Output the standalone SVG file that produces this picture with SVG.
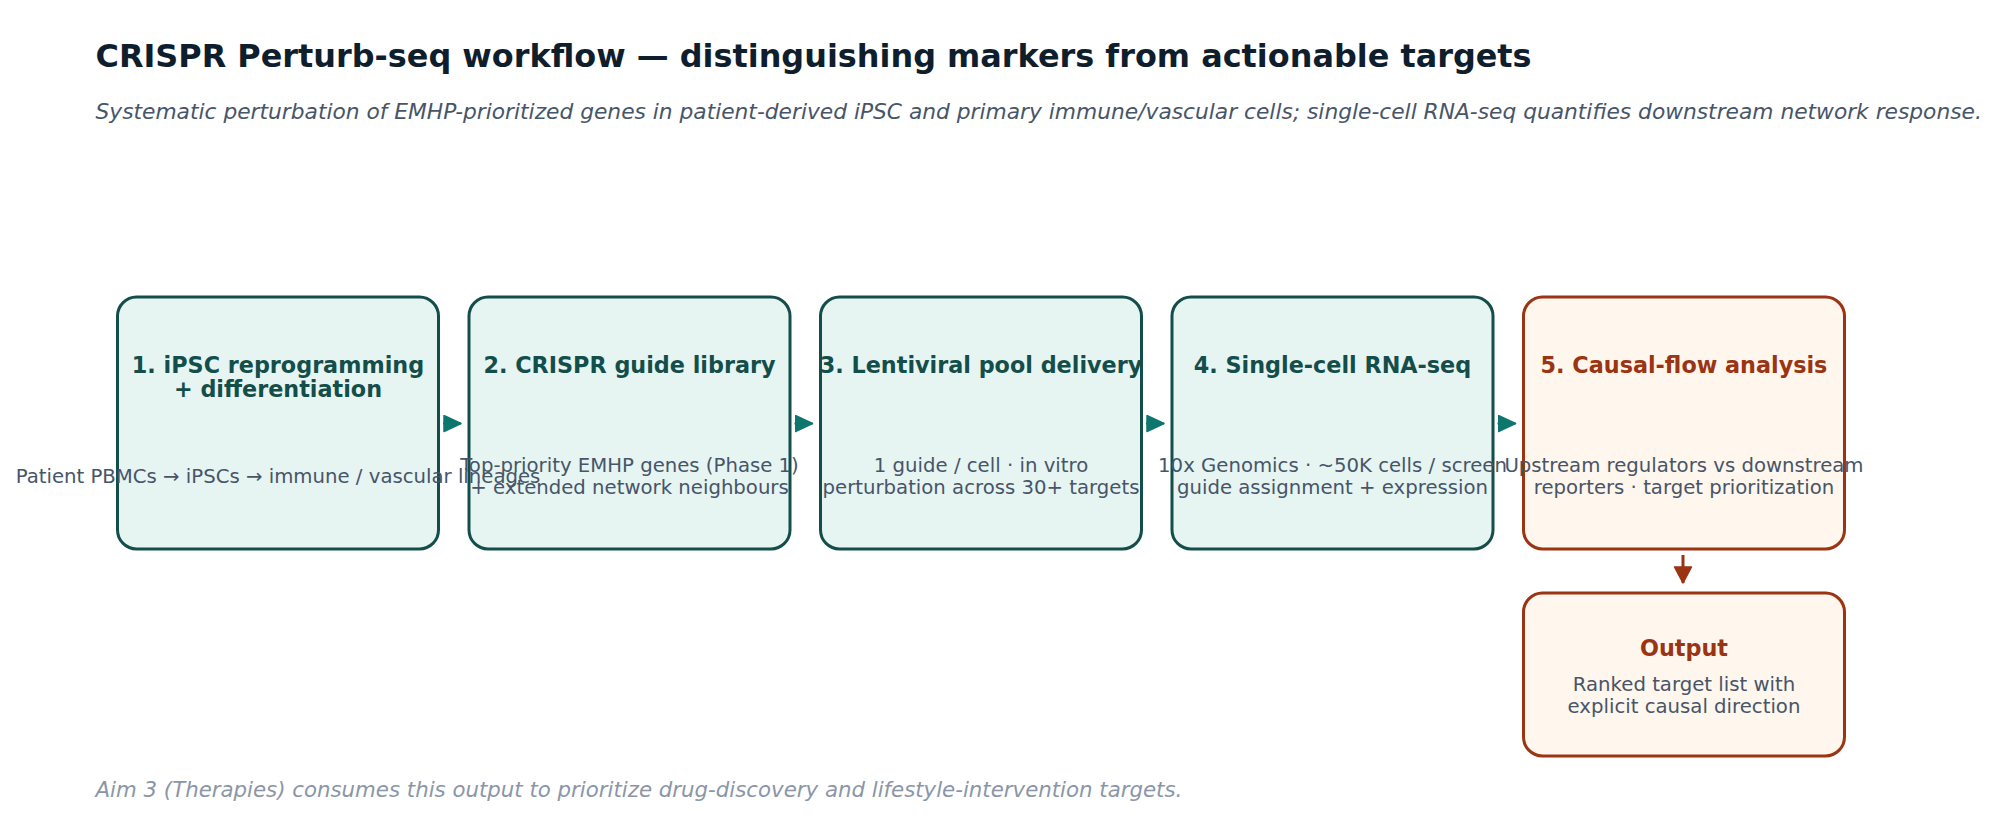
<svg xmlns="http://www.w3.org/2000/svg" width="1997" height="832" viewBox="0 0 1997 832">
<style>
text{font-family:"DejaVu Sans","Liberation Sans",sans-serif}
.title{font-size:31.9px;font-weight:bold;fill:#0f1e2d}
.sub{font-size:21.75px;font-style:italic;fill:#475569}
.foot{font-size:21.3px;font-style:italic;fill:#8a96a8}
.box{fill:#e6f4f2;stroke:#134e4a;stroke-width:3}
.boxo{fill:#fff6ed;stroke:#9a3412;stroke-width:3}
.h{font-size:22.3px;font-weight:bold;fill:#134e4a;text-anchor:middle}
.ho{font-size:22.3px;font-weight:bold;fill:#9a3412;text-anchor:middle}
.b{font-size:19.7px;fill:#475569;text-anchor:middle}
</style>
<defs>
<marker id="at" markerUnits="userSpaceOnUse" markerWidth="20" markerHeight="20" refX="18" refY="9" orient="auto">
<path d="M1,1 L18,9 L1,17 Z" fill="#0f766e" stroke="#0f766e" stroke-width="1.5" stroke-linejoin="round"/>
</marker>
<marker id="ao" markerUnits="userSpaceOnUse" markerWidth="20" markerHeight="20" refX="17" refY="9.5" orient="auto">
<path d="M1,1 L17,9.5 L1,18 Z" fill="#9a3412" stroke="#9a3412" stroke-width="1.5" stroke-linejoin="round"/>
</marker>
</defs>
<rect width="1997" height="832" fill="#ffffff"/>
<text class="title" x="95.5" y="67">CRISPR Perturb-seq workflow — distinguishing markers from actionable targets</text>
<text class="sub" x="95.5" y="118.5">Systematic perturbation of EMHP-prioritized genes in patient-derived iPSC and primary immune/vascular cells; single-cell RNA-seq quantifies downstream network response.</text>
<g id="output">
<rect class="boxo" x="1523.5" y="593" width="321" height="163" rx="19" stroke="#b0482a"/>
<text class="ho" x="1684" y="656">Output</text>
<text class="b" x="1684" y="691">Ranked target list with</text>
<text class="b" x="1684" y="713">explicit causal direction</text>
</g>
<g id="step5">
<rect class="boxo" x="1523.5" y="297" width="321" height="252" rx="19"/>
<text class="ho" x="1684" y="373">5. Causal-flow analysis</text>
<text class="b" x="1684" y="472">Upstream regulators vs downstream</text>
<text class="b" x="1684" y="494">reporters · target prioritization</text>
</g>
<g id="step4">
<rect class="box" x="1172" y="297" width="321" height="252" rx="19"/>
<text class="h" x="1332.5" y="373">4. Single-cell RNA-seq</text>
<text class="b" x="1332.5" y="472">10x Genomics · ~50K cells / screen</text>
<text class="b" x="1332.5" y="494">guide assignment + expression</text>
</g>
<g id="step3">
<rect class="box" x="820.5" y="297" width="321" height="252" rx="19"/>
<text class="h" x="981" y="373">3. Lentiviral pool delivery</text>
<text class="b" x="981" y="472">1 guide / cell · in vitro</text>
<text class="b" x="981" y="494">perturbation across 30+ targets</text>
</g>
<g id="step2">
<rect class="box" x="469" y="297" width="321" height="252" rx="19"/>
<text class="h" x="629.5" y="373">2. CRISPR guide library</text>
<text class="b" x="629.5" y="472">Top-priority EMHP genes (Phase 1)</text>
<text class="b" x="629.5" y="494">+ extended network neighbours</text>
</g>
<g id="step1">
<rect class="box" x="117.5" y="297" width="321" height="252" rx="19"/>
<text class="h" x="278" y="373">1. iPSC reprogramming</text>
<text class="h" x="278" y="396.5">+ differentiation</text>
<text class="b" x="278" y="483">Patient PBMCs → iPSCs → immune / vascular lineages</text>
</g>
<g id="connectors">
<line x1="443" y1="423.5" x2="461" y2="423.5" stroke="#0f766e" stroke-width="2" marker-end="url(#at)"/>
<line x1="794.5" y1="423.5" x2="812.5" y2="423.5" stroke="#0f766e" stroke-width="2" marker-end="url(#at)"/>
<line x1="1146" y1="423.5" x2="1164" y2="423.5" stroke="#0f766e" stroke-width="2" marker-end="url(#at)"/>
<line x1="1497.5" y1="423.5" x2="1515.5" y2="423.5" stroke="#0f766e" stroke-width="2" marker-end="url(#at)"/>
<line x1="1683" y1="555" x2="1683" y2="583" stroke="#9a3412" stroke-width="3" marker-end="url(#ao)"/>
</g>
<text class="foot" x="95.5" y="797">Aim 3 (Therapies) consumes this output to prioritize drug-discovery and lifestyle-intervention targets.</text>
</svg>
